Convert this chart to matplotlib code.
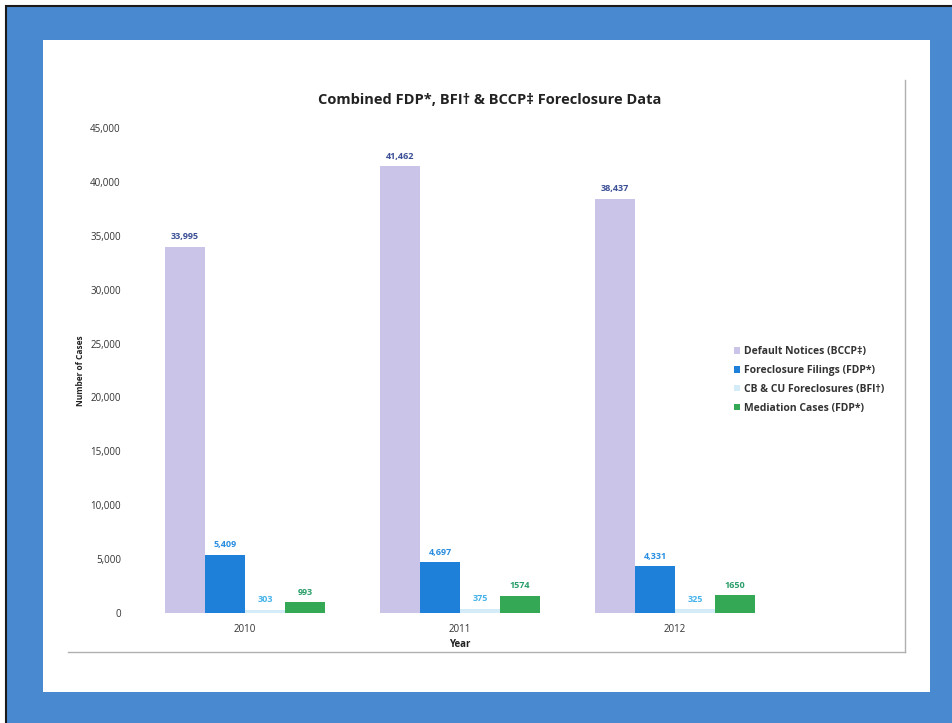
import matplotlib
matplotlib.use("Agg")
import matplotlib.pyplot as plt
from matplotlib.patches import Rectangle
from matplotlib.lines import Line2D
from matplotlib.ticker import FuncFormatter
import numpy as np

plt.rcParams['font.family'] = ['Liberation Sans Narrow', 'Open Sans', 'DejaVu Sans']

years = ["2010", "2011", "2012"]
series_names = ["Default Notices (BCCP\u2021)", "Foreclosure Filings (FDP*)",
                "CB & CU Foreclosures (BFI\u2020)", "Mediation Cases (FDP*)"]
default_notices = [33995, 41462, 38437]
foreclosure_filings = [5409, 4697, 4331]
cb_cu_foreclosures = [303, 375, 325]
mediation_cases = [993, 1574, 1650]
yticks = [0, 5000, 10000, 15000, 20000, 25000, 30000, 35000, 40000, 45000]

series = [default_notices, foreclosure_filings, cb_cu_foreclosures, mediation_cases]
colors = ["#c9c4e8", "#1f80d9", "#d3ecf8", "#34a855"]
label_colors = ["#3b4f96", "#2a8ee0", "#45b3ea", "#2a9e6a"]
comma = [True, True, False, False]

W, H = 953, 723
fig = plt.figure(figsize=(W / 100, H / 100), dpi=100)
fig.patch.set_facecolor("white")

def fx(x):
    return x / W

def fy(y):
    return 1 - y / H

# outer blue frame with black edge
fig.patches.append(Rectangle((fx(6), -0.02), fx(953 - 6) + 0.01, fy(6) + 0.02,
                             transform=fig.transFigure, facecolor="#4889cf",
                             edgecolor="#1a1a1a", linewidth=1.5, zorder=0))
# inner white panel
fig.patches.append(Rectangle((fx(43), fy(692)), fx(930 - 43), fy(40) - fy(692),
                             transform=fig.transFigure, facecolor="white",
                             edgecolor="none", zorder=0.5))
# chart area border (right and bottom)
fig.lines.append(Line2D([fx(905), fx(905)], [fy(80), fy(652)], transform=fig.transFigure,
                        color="#b0b0b0", linewidth=1.0, zorder=1))
fig.lines.append(Line2D([fx(68), fx(905)], [fy(652), fy(652)], transform=fig.transFigure,
                        color="#b0b0b0", linewidth=1.0, zorder=1))

ax = fig.add_axes([fx(137.5), fy(613), fx(782.5 - 137.5), fy(128) - fy(613)])
ax.set_zorder(3)
ax.set_facecolor("none")

x = np.arange(len(years))
w = 40 / 215
for i, (vals, c, lc, cm, name) in enumerate(zip(series, colors, label_colors, comma, series_names)):
    pos = x + (i - 1.5) * w
    bars = ax.bar(pos, vals, width=w, color=c, label=name, zorder=2)
    for b, v in zip(bars, vals):
        txt = f"{v:,}" if cm else f"{v}"
        ax.annotate(txt, (b.get_x() + b.get_width() / 2, v), xytext=(0, 4),
                    textcoords="offset points", ha="center", va="bottom",
                    fontsize=6.5, fontweight="bold", color=lc)

ax.set_xlim(-0.5, 2.5)
ax.set_ylim(0, 45000)
ax.set_yticks(yticks)
ax.yaxis.set_major_formatter(FuncFormatter(lambda v, p: f"{int(v):,}"))
ax.set_xticks(x)
ax.set_xticklabels(years)
ax.tick_params(axis="both", length=0, labelsize=7, colors="#333333")
ax.tick_params(axis="y", pad=12)
ax.tick_params(axis="x", pad=8)
for s in ax.spines.values():
    s.set_visible(False)

ax.set_xlabel("Year", fontsize=7, fontweight="bold", color="#222222", labelpad=3)
ax.set_ylabel("Number of Cases", fontsize=6, fontweight="bold", color="#222222", labelpad=4)

fig.text(fx(490), fy(100), "Combined FDP*, BFI\u2020 & BCCP\u2021 Foreclosure Data",
         ha="center", va="center", fontsize=10.5, fontweight="bold", color="#222222", zorder=3)

leg = ax.legend(loc="upper left", bbox_to_anchor=(fx(730), fy(342)), bbox_transform=fig.transFigure,
                frameon=False, fontsize=7.5, handlelength=0.6, handleheight=0.6,
                handletextpad=0.3, labelspacing=0.75, borderaxespad=0)
for t in leg.get_texts():
    t.set_color("#333333")
    t.set_fontweight("bold")

fig.savefig("out.png", dpi=100)
